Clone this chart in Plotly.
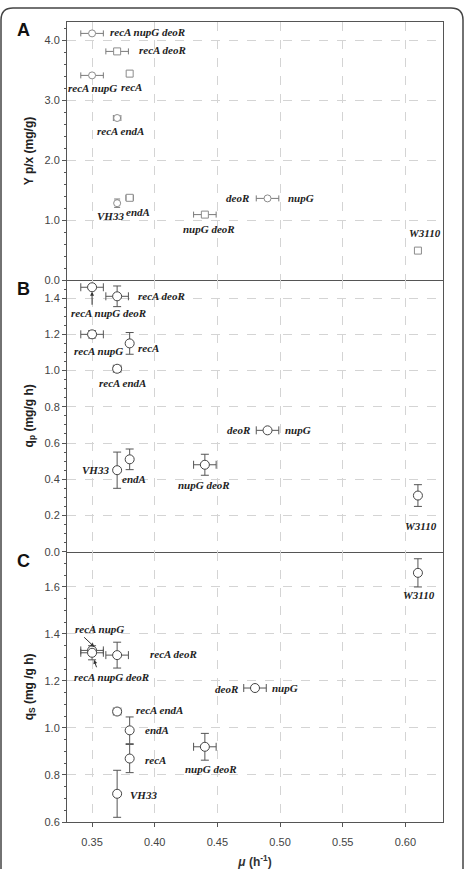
import plotly.graph_objects as go
from plotly.subplots import make_subplots

# ---------------- data ----------------
strains = ["VH33", "W3110", "recA", "endA", "recA endA", "nupG deoR",
           "deoR nupG", "recA deoR", "recA nupG", "recA nupG deoR"]

mu_A = [0.37, 0.61, 0.38, 0.38, 0.37, 0.44, 0.49, 0.37, 0.35, 0.35]
mu_B = [0.37, 0.61, 0.38, 0.38, 0.37, 0.44, 0.49, 0.37, 0.35, 0.35]
mu_C = [0.37, 0.61, 0.38, 0.38, 0.37, 0.44, 0.48, 0.37, 0.35, 0.35]

mu_err_A = [0.0, 0.0, 0.002, 0.003, 0.003, 0.009, 0.009, 0.009, 0.009, 0.009]
mu_err_B = [0.0, 0.0, 0.0, 0.0, 0.003, 0.009, 0.009, 0.009, 0.009, 0.009]
mu_err_C = [0.0, 0.0, 0.0, 0.0, 0.003, 0.009, 0.009, 0.009, 0.009, 0.009]

ypx = [1.28, 0.49, 3.44, 1.37, 2.70, 1.09, 1.36, 3.81, 3.41, 4.11]
ypx_err = [0.07, 0.0, 0.05, 0.04, 0.0, 0.04, 0.0, 0.04, 0.0, 0.0]
ypx_symbols = ["circle", "square", "square", "square", "circle",
               "square", "circle", "square", "circle", "circle"]

qp = [0.45, 0.31, 1.15, 0.51, 1.01, 0.48, 0.67, 1.41, 1.20, 1.46]
qp_err = [0.10, 0.06, 0.06, 0.057, 0.01, 0.058, 0.0, 0.057, 0.02, 0.0]

qs = [0.72, 1.66, 0.87, 0.99, 1.07, 0.92, 1.17, 1.31, 1.33, 1.32]
qs_err = [0.10, 0.06, 0.06, 0.057, 0.0, 0.057, 0.0, 0.055, 0.01, 0.03]

x_ticks = [0.35, 0.40, 0.45, 0.50, 0.55, 0.60]

# label placements (text, x, y, xanchor)
labels_A = [
    ("recA nupG deoR", 0.3624, 4.135, "left"),
    ("recA deoR", 0.3859, 3.83, "left"),
    ("recA nupG", 0.350, 3.20, "center"),
    ("recA", 0.3813, 3.22, "center"),
    ("recA endA", 0.3725, 2.48, "center"),
    ("VH33", 0.365, 1.06, "center"),
    ("endA", 0.3865, 1.14, "center"),
    ("deoR", 0.4768, 1.36, "right"),
    ("nupG", 0.5047, 1.36, "left"),
    ("nupG deoR", 0.4435, 0.85, "center"),
    ("W3110", 0.6158, 0.78, "center"),
]
labels_B = [
    ("recA deoR", 0.3851, 1.413, "left"),
    ("recA nupG deoR", 0.3635, 1.317, "center"),
    ("recA nupG", 0.355, 1.109, "center"),
    ("recA", 0.385, 1.127, "left"),
    ("recA endA", 0.3745, 0.93, "center"),
    ("VH33", 0.365, 0.45, "right"),
    ("endA", 0.3835, 0.40, "center"),
    ("nupG deoR", 0.4396, 0.368, "center"),
    ("deoR", 0.4773, 0.67, "right"),
    ("nupG", 0.502, 0.67, "left"),
    ("W3110", 0.6126, 0.142, "center"),
]
labels_C = [
    ("W3110", 0.611, 1.565, "center"),
    ("recA nupG", 0.356, 1.423, "center"),
    ("recA nupG deoR", 0.3655, 1.215, "center"),
    ("recA deoR", 0.415, 1.313, "center"),
    ("deoR", 0.468, 1.165, "right"),
    ("nupG", 0.492, 1.171, "left"),
    ("recA endA", 0.404, 1.077, "center"),
    ("endA", 0.3904, 0.992, "left"),
    ("recA", 0.3904, 0.864, "left"),
    ("VH33", 0.3784, 0.715, "left"),
    ("nupG deoR", 0.4449, 0.825, "center"),
]

# ---------------- figure ----------------
fig = make_subplots(rows=3, cols=1, shared_xaxes=True, vertical_spacing=0,
                    row_heights=[258, 271.7, 270.3])

fig.add_trace(go.Scatter(
    x=mu_A, y=ypx, mode="markers", text=strains,
    marker=dict(symbol=ypx_symbols, size=7, color="white",
                line=dict(color="#8c8c8c", width=1)),
    error_x=dict(type="data", array=mu_err_A, color="#7a7a7a", thickness=1, width=3),
    error_y=dict(type="data", array=ypx_err, color="#7a7a7a", thickness=1, width=3),
    showlegend=False), row=1, col=1)

fig.add_trace(go.Scatter(
    x=mu_B, y=qp, mode="markers", text=strains,
    marker=dict(symbol="circle", size=9, color="white",
                line=dict(color="#444444", width=1)),
    error_x=dict(type="data", array=mu_err_B, color="#555555", thickness=1, width=4),
    error_y=dict(type="data", array=qp_err, color="#555555", thickness=1, width=4),
    showlegend=False), row=2, col=1)

fig.add_trace(go.Scatter(
    x=mu_C, y=qs, mode="markers", text=strains,
    marker=dict(symbol="circle", size=9, color="white",
                line=dict(color="#444444", width=1)),
    error_x=dict(type="data", array=mu_err_C, color="#555555", thickness=1, width=4),
    error_y=dict(type="data", array=qs_err, color="#555555", thickness=1, width=4),
    showlegend=False), row=3, col=1)

axis_common = dict(showline=True, linecolor="#555555", linewidth=1, automargin=False,
                   showgrid=True, gridcolor="#d4d4d4", griddash="dash", gridwidth=1,
                   zeroline=False, ticks="outside", ticklen=4, tickcolor="#555555",
                   tickfont=dict(family="Arial, Liberation Sans", size=11, color="#444444"))

for r in (1, 2, 3):
    fig.update_xaxes(range=[0.33, 0.63], tickvals=x_ticks, tickformat=".2f",
                     mirror=(r == 1), row=r, col=1, **axis_common)
fig.update_xaxes(showticklabels=False, ticks="", row=1, col=1)
fig.update_xaxes(showticklabels=False, ticks="", row=2, col=1)
fig.update_xaxes(ticklabelstandoff=6,
                 title=dict(text="<b><i>μ</i> (h<sup>-1</sup>)</b>", standoff=12,
                            font=dict(family="Arial, Liberation Sans", size=12, color="#333333")),
                 row=3, col=1)

title_font = dict(family="Arial, Liberation Sans", size=12, color="#222222")
fig.update_yaxes(range=[0, 4.3], tickvals=[0, 1, 2, 3, 4], tickformat=".1f", mirror=True,
                 minor=dict(ticks="outside", dtick=0.2, ticklen=2, tickcolor="#555555", showgrid=False),
                 title=dict(text="<b>Y p/x (mg/g)</b>", font=title_font, standoff=8),
                 row=1, col=1, **axis_common)
fig.update_yaxes(range=[0, 1.5], tickvals=[0, 0.2, 0.4, 0.6, 0.8, 1.0, 1.2, 1.4], tickformat=".1f",
                 mirror=True,
                 minor=dict(ticks="outside", dtick=0.05, ticklen=2, tickcolor="#555555", showgrid=False),
                 title=dict(text="<b>q<sub>p</sub> (mg/g h)</b>", font=title_font, standoff=8),
                 row=2, col=1, **axis_common)
fig.update_yaxes(range=[0.6, 1.75], tickvals=[0.6, 0.8, 1.0, 1.2, 1.4, 1.6], tickformat=".1f",
                 mirror=True,
                 minor=dict(ticks="outside", dtick=0.05, ticklen=2, tickcolor="#555555", showgrid=False),
                 title=dict(text="<b>q<sub>S</sub> (mg /g h)</b>", font=title_font, standoff=8),
                 row=3, col=1, **axis_common)

label_font = dict(family="Liberation Serif, Times New Roman, serif", size=11, color="#222222")
anns = []
for (labels, xr, yr) in ((labels_A, "x", "y"), (labels_B, "x2", "y2"), (labels_C, "x3", "y3")):
    for t, x, y, xa in labels:
        anns.append(dict(text="<b><i>%s</i></b>" % t, x=x, y=y, xref=xr, yref=yr,
                         xanchor=xa, yanchor="middle", showarrow=False, font=label_font))

# arrows pointing from labels to overlapping points
arrow_style = dict(showarrow=True, arrowhead=2, arrowsize=0.8, arrowwidth=1,
                   arrowcolor="#333333", text="")
anns.append(dict(x=0.35, y=1.435, xref="x2", yref="y2", ax=0.35, ay=1.355,
                 axref="x2", ayref="y2", **arrow_style))
anns.append(dict(x=0.3518, y=1.345, xref="x3", yref="y3", ax=0.3425, ay=1.392,
                 axref="x3", ayref="y3", **arrow_style))
anns.append(dict(x=0.3515, y=1.29, xref="x3", yref="y3", ax=0.354, ay=1.252,
                 axref="x3", ayref="y3", **arrow_style))

# panel letters
for letter, yp in (("A", 0.99), ("B", 0.666), ("C", 0.326)):
    anns.append(dict(text="<b>%s</b>" % letter, x=-0.117, y=yp, xref="paper", yref="paper",
                     xanchor="center", yanchor="middle", showarrow=False,
                     font=dict(family="Arial, Liberation Sans", size=18, color="#111111")))

# outer rounded frame
x0, x1 = (1 - 67) / 376, (463 - 67) / 376
yt, yb = (822 - 8) / 800, (822 - 905) / 800
dx, dy = 12 / 376, 12 / 800
path = (f"M {x0},{yb} L {x0},{yt - dy} Q {x0},{yt} {x0 + dx},{yt} "
        f"L {x1 - dx},{yt} Q {x1},{yt} {x1},{yt - dy} L {x1},{yb}")

fig.update_layout(
    width=465, height=869,
    margin=dict(l=67, r=22, t=22, b=47),
    paper_bgcolor="white", plot_bgcolor="white",
    annotations=anns,
    shapes=[dict(type="path", path=path, xref="paper", yref="paper",
                 line=dict(color="#444444", width=1.5))],
)

fig.write_html("out.html")
